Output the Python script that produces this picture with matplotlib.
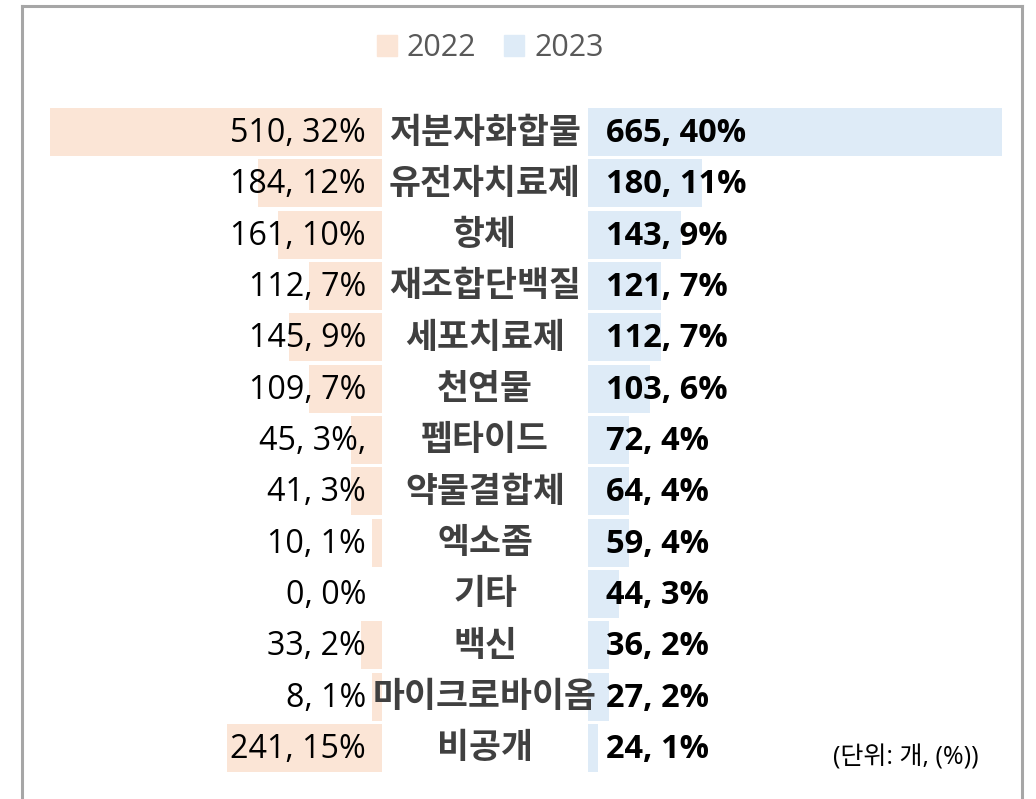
import matplotlib
matplotlib.use("Agg")
import matplotlib.pyplot as plt
from matplotlib.patches import Patch
from matplotlib.lines import Line2D

plt.rcParams['font.family'] = ['Open Sans', 'Noto Sans CJK KR', 'DejaVu Sans']

categories = ['저분자화합물', '유전자치료제', '항체', '재조합단백질', '세포치료제', '천연물',
              '펩타이드', '약물결합체', '엑소좀', '기타', '백신', '마이크로바이옴', '비공개']
count_2022 = [510, 184, 161, 112, 145, 109, 45, 41, 10, 0, 33, 8, 241]
count_2023 = [665, 180, 143, 121, 112, 103, 72, 64, 59, 44, 36, 27, 24]
pct_2022 = [32, 12, 10, 7, 9, 7, 3, 3, 1, 0, 2, 1, 15]
pct_2023 = [40, 11, 9, 7, 7, 6, 4, 4, 4, 3, 2, 2, 1]

labels_2022 = [f'{c}, {p}%' for c, p in zip(count_2022, pct_2022)]
labels_2022[6] += ','   # stray comma in the original
labels_2023 = [f'{c}, {p}%' for c, p in zip(count_2023, pct_2023)]

c22 = '#FBE5D6'
c23 = '#DEEBF7'

W, H = 1036, 799
px = 10.36      # pixels per percent
cx = 485        # centre column (pixels)
gap = 206 / px  # space between the two bar groups
row0, dy = 132, 51.33

fig = plt.figure(figsize=(W / 100, H / 100), dpi=100)
ax = fig.add_axes([0, 0, 1, 1])
ax.set_xlim(-cx / px, (W - cx) / px)
ax.set_ylim((H - row0) / dy, -row0 / dy)
ax.axis('off')

ys = list(range(len(categories)))
ax.barh(ys, [-p for p in pct_2022], left=-gap / 2, height=0.935, color=c22)
ax.barh(ys, pct_2023, left=gap / 2, height=0.935, color=c23)

for y, cat, l22, l23 in zip(ys, categories, labels_2022, labels_2023):
    ax.text(-gap / 2 - 16 / px, y + 0.03, l22, ha='right', va='center', fontsize=23.2,
            color='black')
    ax.text(0, y, cat, ha='center', va='center', fontsize=25, fontweight='bold',
            color='#404040', family=['Noto Sans CJK KR'])
    ax.text(gap / 2 + 18 / px, y + 0.03, l23, ha='left', va='center', fontsize=23.5,
            fontweight='bold', color='black')

fig.text(833 / W, 1 - 758 / H, '(단위: 개, (%))', ha='left', va='center', fontsize=18,
         color='black')

handles = [Patch(color=c22, label='2022'), Patch(color=c23, label='2023')]
fig.legend(handles=handles, loc='center', bbox_to_anchor=(490 / W, 1 - 48 / H), ncol=2,
           frameon=False, fontsize=22, labelcolor='#595959', handlelength=0.66,
           handleheight=0.66, handletextpad=0.33, columnspacing=0.9)

# chart border (open at the bottom)
bc = '#A6A6A6'
fig.add_artist(Line2D([21.5 / W, 21.5 / W], [0, 1 - 6 / H], color=bc, lw=2.2))
fig.add_artist(Line2D([21.5 / W, 1022 / W], [1 - 6 / H, 1 - 6 / H], color=bc, lw=2.2))
fig.add_artist(Line2D([1022 / W, 1022 / W], [0, 1 - 6 / H], color=bc, lw=2.2))

fig.savefig('out.png', dpi=100)
